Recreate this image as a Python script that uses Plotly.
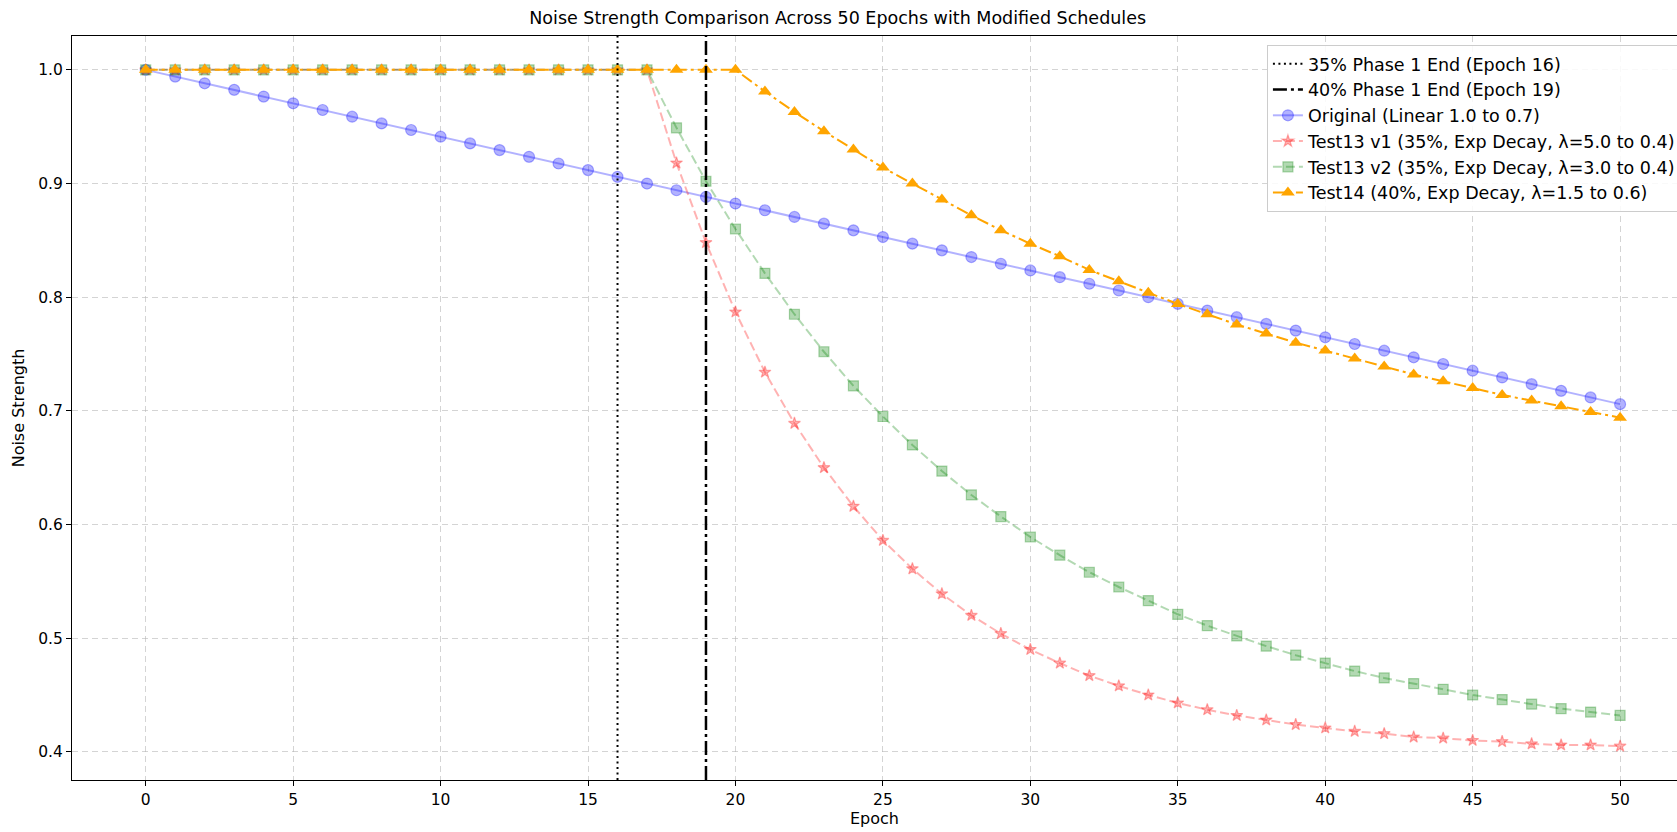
import plotly.graph_objects as go

epochs = [0, 1, 2, 3, 4, 5, 6, 7, 8, 9, 10, 11, 12, 13, 14, 15, 16, 17, 18, 19, 20,
          21, 22, 23, 24, 25, 26, 27, 28, 29, 30, 31, 32, 33, 34, 35, 36, 37, 38, 39, 40,
          41, 42, 43, 44, 45, 46, 47, 48, 49, 50]

original = [1.0, 0.9941, 0.9882, 0.9824, 0.9765, 0.9706, 0.9647, 0.9588, 0.9529, 0.9471,
            0.9412, 0.9353, 0.9294, 0.9235, 0.9176, 0.9118, 0.9059, 0.9, 0.8941, 0.8882,
            0.8824, 0.8765, 0.8706, 0.8647, 0.8588, 0.8529, 0.8471, 0.8412, 0.8353, 0.8294,
            0.8235, 0.8176, 0.8118, 0.8059, 0.8, 0.7941, 0.7882, 0.7824, 0.7765, 0.7706,
            0.7647, 0.7588, 0.7529, 0.7471, 0.7412, 0.7353, 0.7294, 0.7235, 0.7176, 0.7118,
            0.7059]

test13_v1 = [1.0, 1.0, 1.0, 1.0, 1.0, 1.0, 1.0, 1.0, 1.0, 1.0, 1.0, 1.0, 1.0, 1.0, 1.0, 1.0,
             1.0, 1.0,
             0.918, 0.848, 0.787, 0.734, 0.689, 0.650, 0.616, 0.586, 0.561, 0.539, 0.520,
             0.504, 0.490, 0.478, 0.467, 0.458, 0.450, 0.443, 0.437, 0.432, 0.428, 0.424,
             0.421, 0.418, 0.416, 0.413, 0.412, 0.410, 0.409, 0.407, 0.406, 0.406, 0.405]

test13_v2 = [1.0, 1.0, 1.0, 1.0, 1.0, 1.0, 1.0, 1.0, 1.0, 1.0, 1.0, 1.0, 1.0, 1.0, 1.0, 1.0,
             1.0, 1.0,
             0.949, 0.902, 0.860, 0.821, 0.785, 0.752, 0.722, 0.695, 0.670, 0.647, 0.626,
             0.607, 0.589, 0.573, 0.558, 0.545, 0.533, 0.521, 0.511, 0.502, 0.493, 0.485,
             0.478, 0.471, 0.465, 0.460, 0.455, 0.450, 0.446, 0.442, 0.438, 0.435, 0.432]

test14 = [1.0, 1.0, 1.0, 1.0, 1.0, 1.0, 1.0, 1.0, 1.0, 1.0, 1.0, 1.0, 1.0, 1.0, 1.0, 1.0,
          1.0, 1.0, 1.0, 1.0, 1.0,
          0.981, 0.963, 0.946, 0.930, 0.914, 0.900, 0.886, 0.872, 0.859, 0.847, 0.836,
          0.824, 0.814, 0.804, 0.794, 0.785, 0.776, 0.768, 0.760, 0.753, 0.746, 0.739,
          0.732, 0.726, 0.720, 0.714, 0.709, 0.704, 0.699, 0.694]

phase_ends = [16, 19]
phase_labels = ["35% Phase 1 End (Epoch 16)", "40% Phase 1 End (Epoch 19)"]
series_names = [
    "Original (Linear 1.0 to 0.7)",
    "Test13 v1 (35%, Exp Decay, λ=5.0 to 0.4)",
    "Test13 v2 (35%, Exp Decay, λ=3.0 to 0.4)",
    "Test14 (40%, Exp Decay, λ=1.5 to 0.6)",
]
x_ticks = [0, 5, 10, 15, 20, 25, 30, 35, 40, 45, 50]
y_ticks = [0.4, 0.5, 0.6, 0.7, 0.8, 0.9, 1.0]

FONT = "DejaVu Sans, Liberation Sans, sans-serif"
FS_TICK = 15.5
FS_LABEL = 16
FS_LEGEND = 17.5

fig = go.Figure()

fig.add_trace(go.Scatter(
    x=epochs, y=original, name=series_names[0], mode="lines+markers",
    line=dict(color="rgba(0,0,255,0.3)", width=2),
    marker=dict(symbol="circle", size=11, color="rgba(0,0,255,0.3)",
                line=dict(color="rgba(0,0,255,0.3)", width=1.2)),
    legendrank=3,
))
fig.add_trace(go.Scatter(
    x=epochs, y=test13_v1, name=series_names[1], mode="lines+markers",
    line=dict(color="rgba(255,0,0,0.3)", width=2, dash="9px,4px"),
    marker=dict(symbol="star", size=9, color="rgba(255,0,0,0.3)",
                line=dict(color="rgba(255,0,0,0.3)", width=1.2)),
    legendrank=4,
))
fig.add_trace(go.Scatter(
    x=epochs, y=test13_v2, name=series_names[2], mode="lines+markers",
    line=dict(color="rgba(0,128,0,0.3)", width=2, dash="9px,4px"),
    marker=dict(symbol="square", size=10, color="rgba(0,128,0,0.3)",
                line=dict(color="rgba(0,128,0,0.3)", width=1.2)),
    legendrank=5,
))
fig.add_trace(go.Scatter(
    x=epochs, y=test14, name=series_names[3], mode="lines+markers",
    line=dict(color="#FFA500", width=2, dash="12px,4px,3px,4px"),
    marker=dict(symbol="triangle-up", size=12, color="#FFA500",
                line=dict(color="#FFA500", width=0)),
    legendrank=6,
))

fig.add_shape(type="line", xref="x", yref="paper", x0=phase_ends[0], x1=phase_ends[0],
              y0=0, y1=1, line=dict(color="black", width=2, dash="2px,3.5px"),
              showlegend=True, name=phase_labels[0], legendrank=1)
fig.add_shape(type="line", xref="x", yref="paper", x0=phase_ends[1], x1=phase_ends[1],
              y0=0, y1=1, line=dict(color="black", width=2.5, dash="14px,4px,3px,4px"),
              showlegend=True, name=phase_labels[1], legendrank=2)

axis_common = dict(
    showgrid=True, gridcolor="rgba(176,176,176,0.55)", griddash="6px,4px", gridwidth=1,
    showline=True, linecolor="black", linewidth=1.2,
    ticks="outside", ticklen=5, tickwidth=1.2, tickcolor="black",
    tickfont=dict(family=FONT, size=FS_TICK, color="#000"),
    zeroline=False,
)

fig.update_xaxes(
    **axis_common, mirror=True, range=[-2.5, 51.93], tickvals=x_ticks,
    title=dict(text="Epoch", font=dict(family=FONT, size=FS_LABEL, color="#000"), standoff=5),
)
fig.update_yaxes(
    **axis_common, mirror=False, range=[0.3752, 1.0298], tickvals=y_ticks, tickformat=".1f",
    title=dict(text="Noise Strength", font=dict(family=FONT, size=FS_LABEL, color="#000"),
               standoff=9),
)

fig.update_layout(
    width=1677, height=832,
    margin=dict(l=72, r=0, t=36, b=52, autoexpand=False),
    paper_bgcolor="white", plot_bgcolor="white",
    font=dict(family=FONT, size=FS_TICK, color="#000"),
    title=dict(text="Noise Strength Comparison Across 50 Epochs with Modified Schedules",
               x=0.4995, xanchor="center", xref="container", y=0.978, yanchor="middle",
               yref="container", font=dict(family=FONT, size=17.5, color="#000")),
    legend=dict(x=0.7445, y=0.988, xanchor="left", yanchor="top",
                bgcolor="rgba(255,255,255,0.85)", bordercolor="#cccccc", borderwidth=1,
                font=dict(family=FONT, size=FS_LEGEND, color="#000"), traceorder="normal"),
    showlegend=True,
)

fig.write_html("out.html")
